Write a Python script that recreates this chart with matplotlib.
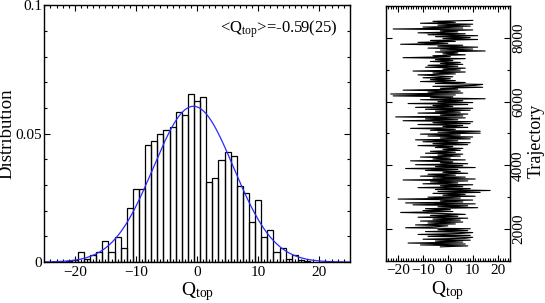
import numpy as np
import matplotlib
matplotlib.use("Agg")
import matplotlib.pyplot as plt
from matplotlib.ticker import MultipleLocator, FixedLocator

plt.rcParams['font.family'] = ['Liberation Serif', 'DejaVu Serif']
plt.rcParams['mathtext.fontset'] = 'custom'
plt.rcParams['mathtext.rm'] = 'Liberation Serif'
plt.rcParams['mathtext.it'] = 'Liberation Serif:italic'
plt.rcParams['axes.unicode_minus'] = True

# ---- histogram data (bin centres and heights) ----
bin_centers = [-21, -20, -19, -18, -17, -16, -15, -14, -13, -12, -11, -10, -9, -8, -7,
               -6, -5, -4, -3, -2, -1, 0, 1, 2, 3, 4, 5, 6, 7, 8, 9, 10, 11, 12, 13,
               14, 15, 16, 17, 18]
bin_heights = [0.0003, 0.0010, 0.0040, 0.0013, 0.0026, 0.0040, 0.0083, 0.0040, 0.0098,
               0.0055, 0.0211, 0.0285, 0.0285, 0.0456, 0.0471, 0.0500, 0.0513, 0.0527,
               0.0585, 0.0572, 0.0656, 0.0629, 0.0642, 0.0311, 0.0327, 0.0398, 0.0428,
               0.0413, 0.0298, 0.0270, 0.0156, 0.0242, 0.0099, 0.0125, 0.0039, 0.0055,
               0.0012, 0.0027, 0.0010, 0.0004]
gauss_mean = -0.59
gauss_sigma = 6.57
annotation = r'<Q$_{\rm top}$>=-0.59(25)'

# ---- trajectory history ----
traj_start = 1440
traj_step = 30
q_history = [
    -3, 8, -11, 7, -16, 6, -5, 9, -10, 7,
    10, -8, 9, -12, 5, 10, -9, 8, -4, 9,
    -17, -5, 0, -13, 3, -8, 6, -11, 5, -6,
    8, -12, 4, -7, 7, -3, -19, 2, -10, 1,
    -9, 12, -4, 8, -14, 11, -17, 6, -3, 10,
    -20, 5, -8, 11, -2, 7, -6, 13, -4, 17,
    -5, 9, -12, 6, -3, 10, -10, 4, -7, 8,
    -18, 11, -6, 7, -11, 3, -8, 8, -2, 5,
    -9, 4, -17, 11, -5, 6, -13, 8, -3, 2,
    -15, 7, -6, 1, -11, 5, -4, 6, -9, 3,
    -7, 5, -2, 6, -5, 2, -12, 8, -6, 9,
    -10, 4, -13, 9, -3, 10, -8, 5, -11, 13,
    -4, 13, -7, 3, -15, 8, -2, 6, -12, 9,
    -6, 10, -18, 4, -9, 7, -21, 6, -3, 8,
    -12, 5, -5, 9, -9, 10, -13, 2, -6, 8,
    -16, 10, -4, 6, -11, 15, -7, 2, -22, 3,
    -23, 6, -8, 5, -18, 4, -3, 14, -6, 11,
    14, -5, 7, -11, 3, -7, 1, -10, 2, -4,
    -12, 3, -6, 7, -14, 5, -2, 7, -9, 4,
    -8, 6, -3, 5, -7, 2, -5, 7, -18, 1,
    -6, 7, -2, 4, -5, 15, -3, 10, -8, 12,
    -4, 6, -19, 0, -12, 3, -7, 12, -2, 9,
    -5, 12, -8, 7, -12, 4, -3, 10, -22, 6,
    -10, 9, -4, 10, -11, 3, -6, 10,
]
traj = traj_start + traj_step * np.arange(len(q_history))

fig = plt.figure(figsize=(5.45, 3.03), dpi=100)

def style(ax):
    ax.tick_params(which='both', direction='in', top=True, right=True, labelsize=11,
                   width=0.8, colors='black', pad=2.5)
    ax.tick_params(which='major', length=4)
    ax.tick_params(which='minor', length=2.2)
    for s in ax.spines.values():
        s.set_linewidth(1.0)

# ---- left panel ----
ax1 = fig.add_axes([0.0813, 0.135, 0.5607, 0.847])
ax1.bar(bin_centers, bin_heights, width=1.0, facecolor='none', edgecolor='black',
        linewidth=0.9)
xg = np.linspace(-25, 25, 500)
yg = np.exp(-0.5 * ((xg - gauss_mean) / gauss_sigma) ** 2) / (gauss_sigma * np.sqrt(2 * np.pi))
ax1.plot(xg, yg, color='#2a2aff', linewidth=0.9)
ax1.set_xlim(-25, 25)
ax1.set_ylim(0, 0.1)
ax1.xaxis.set_major_locator(FixedLocator([-20, -10, 0, 10, 20]))
ax1.xaxis.set_minor_locator(MultipleLocator(1))
ax1.set_yticks([0, 0.05, 0.1])
ax1.set_yticklabels(['0', '0.05', '0.1'])
ax1.yaxis.set_minor_locator(MultipleLocator(0.01))
style(ax1)
ax1.tick_params(axis='y', pad=1.5)
ax1.set_xlabel(r'Q$_{\rm top}$', fontsize=14, labelpad=1)
ax1.set_ylabel('Distribution', fontsize=13.5)
ax1.yaxis.set_label_coords(-0.093, 0.5)
ax1.text(0.96, 0.95, annotation, transform=ax1.transAxes, ha='right', va='top',
         fontsize=12)

# ---- right panel ----
ax2 = fig.add_axes([0.7077, 0.139, 0.2281, 0.841])
ax2.plot(q_history, traj, color='black', linewidth=0.8)
ax2.set_xlim(-25, 25)
ax2.set_ylim(1000, 9000)
ax2.xaxis.set_major_locator(FixedLocator([-20, -10, 0, 10, 20]))
ax2.xaxis.set_minor_locator(MultipleLocator(1))
ax2.yaxis.set_major_locator(FixedLocator([2000, 4000, 6000, 8000]))
ax2.yaxis.set_minor_locator(MultipleLocator(1000))
style(ax2)
ax2.tick_params(axis='y', labelleft=False, labelright=True, pad=1.5)
for lab in ax2.get_yticklabels():
    lab.set_rotation(90)
    lab.set_va('center')
ax2.yaxis.set_label_position('right')
ax2.set_ylabel('Trajectory', fontsize=13)
ax2.yaxis.set_label_coords(1.14, 0.47)
ax2.set_xlabel(r'Q$_{\rm top}$', fontsize=14, labelpad=1)

fig.savefig('out.png', dpi=100)
